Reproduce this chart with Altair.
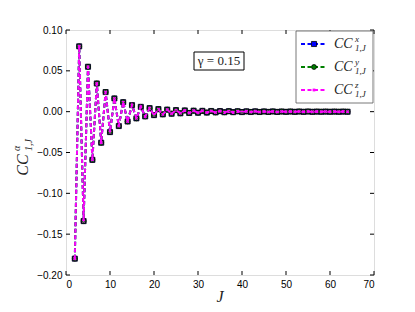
import altair as alt
import pandas as pd

# ---- data ----
J = list(range(2, 65))
cc_x = [-0.180, 0.080, -0.134, 0.055, -0.059, 0.0345, -0.038, 0.024, -0.025, 0.0162,
        -0.0176, 0.0116, -0.012, 0.008, -0.0082, 0.0059, -0.0058, 0.0043, -0.0042, 0.0031,
        -0.0033, 0.0025, -0.0025, 0.0019, -0.0020, 0.0015, -0.0016, 0.0012, -0.0013, 0.0010,
        -0.0011, 0.0008, -0.0009, 0.0007, -0.0007, 0.0006, -0.0006, 0.0005, -0.0005, 0.0004,
        -0.0004, 0.0004, -0.0004, 0.0003, -0.0003, 0.0003, -0.0003, 0.0002, -0.0002, 0.0002,
        -0.0002, 0.0002, -0.0002, 0.0002, -0.0002, 0.0001, -0.0001, 0.0001, -0.0001, 0.0001,
        -0.0001, 0.0001, -0.0001]
cc_y = list(cc_x)
cc_z = list(cc_x)

x_ticks = [0, 10, 20, 30, 40, 50, 60, 70]
y_ticks = [-0.20, -0.15, -0.10, -0.05, 0.00, 0.05, 0.10]

series_names = ["x", "y", "z"]
series_colors = ["#0000ff", "#008000", "#ff00ff"]

df = pd.DataFrame({"J": J, "x": cc_x, "y": cc_y, "z": cc_z})

W, H = 308, 245
FONT = "Liberation Serif"
DASH = [4, 2.5]

xs = alt.Scale(domain=[0, 70], nice=False)
ys = alt.Scale(domain=[-0.2, 0.1], nice=False)

base = alt.Chart(df)

axes = base.mark_point(opacity=0).encode(
    x=alt.X("J:Q", scale=xs, axis=alt.Axis(values=x_ticks, format="d", title=None, grid=False,
                                           ticks=False, domain=False, labelPadding=4)),
    y=alt.Y("x:Q", scale=ys, axis=alt.Axis(values=y_ticks, format=".2f", title=None, grid=False,
                                           ticks=False, domain=False, labelPadding=4)),
)

x_marker = "M-0.5,-0.5L0.5,0.5M-0.5,0.5L0.5,-0.5"


def marker(chart, name, col):
    if name == "x":
        return chart.mark_point(shape="square", filled=True, fill=col, stroke="black",
                                strokeWidth=0.8, size=26, opacity=1)
    if name == "y":
        return chart.mark_point(shape="circle", filled=True, fill=col, stroke="black",
                                strokeWidth=0.8, size=24, opacity=1)
    return chart.mark_point(shape=x_marker, filled=False, stroke=col,
                            strokeWidth=1.3, size=26, opacity=1)


layers = [axes]
for name, col in zip(series_names, series_colors):
    layers.append(base.mark_line(color=col, strokeWidth=2, strokeDash=DASH).encode(
        x=alt.X("J:Q", scale=xs), y=alt.Y(f"{name}:Q", scale=ys)))
    layers.append(marker(base, name, col).encode(
        x=alt.X("J:Q", scale=xs), y=alt.Y(f"{name}:Q", scale=ys)))

# inward ticks on all four sides
xt = alt.Chart(pd.DataFrame({"t": x_ticks}))
yt = alt.Chart(pd.DataFrame({"t": y_ticks}))
layers.append(xt.mark_rule(color="black", strokeWidth=1).encode(
    x=alt.X("t:Q", scale=xs), y=alt.value(H), y2=alt.value(H - 4)))
layers.append(xt.mark_rule(color="black", strokeWidth=1).encode(
    x=alt.X("t:Q", scale=xs), y=alt.value(0), y2=alt.value(4)))
layers.append(yt.mark_rule(color="black", strokeWidth=1).encode(
    y=alt.Y("t:Q", scale=ys), x=alt.value(0), x2=alt.value(4)))
layers.append(yt.mark_rule(color="black", strokeWidth=1).encode(
    y=alt.Y("t:Q", scale=ys), x=alt.value(W), x2=alt.value(W - 4)))

one = alt.Chart(pd.DataFrame({"a": [0]}))

# legend box
layers.append(one.mark_rect(fill="white", stroke="#555", strokeWidth=0.8).encode(
    x=alt.value(230), x2=alt.value(307), y=alt.value(1), y2=alt.value(73)))
rows = [14, 37, 60]
for name, col, ry in zip(series_names, series_colors, rows):
    layers.append(one.mark_rule(color=col, strokeWidth=2, strokeDash=DASH).encode(
        x=alt.value(235), x2=alt.value(261), y=alt.value(ry)))
    layers.append(marker(one, name, col).encode(x=alt.value(248), y=alt.value(ry)))
    layers.append(one.mark_text(text="CC", font=FONT, fontStyle="italic", fontSize=14,
                                align="left", baseline="middle", color="#222").encode(
        x=alt.value(268), y=alt.value(ry)))
    layers.append(one.mark_text(text=name, font=FONT, fontStyle="italic", fontSize=9,
                                align="left", baseline="middle", color="#222").encode(
        x=alt.value(289), y=alt.value(ry - 5)))
    layers.append(one.mark_text(text="1,J", font=FONT, fontStyle="italic", fontSize=9,
                                align="left", baseline="middle", color="#222").encode(
        x=alt.value(289), y=alt.value(ry + 4)))

# gamma annotation box
layers.append(one.mark_rect(fill="white", stroke="black", strokeWidth=1).encode(
    x=alt.value(128), x2=alt.value(178), y=alt.value(22), y2=alt.value(40)))
layers.append(one.mark_text(text="γ = 0.15", font=FONT, fontSize=13, align="center",
                            baseline="middle", color="#222").encode(
    x=alt.value(153), y=alt.value(31)))

# x axis title
layers.append(one.mark_text(text="J", font=FONT, fontStyle="italic", fontSize=16,
                            align="center", baseline="middle", color="#222").encode(
    x=alt.value(154), y=alt.value(267)))

# y axis title (rotated pieces)
layers.append(one.mark_text(text="CC", font=FONT, fontStyle="italic", fontSize=16, angle=270,
                            align="center", baseline="middle", color="#222").encode(
    x=alt.value(-43), y=alt.value(135)))
layers.append(one.mark_text(text="α", font=FONT, fontStyle="italic", fontSize=10, angle=270,
                            align="left", baseline="middle", color="#222").encode(
    x=alt.value(-49), y=alt.value(121)))
layers.append(one.mark_text(text="1,J", font=FONT, fontStyle="italic", fontSize=10, angle=270,
                            align="left", baseline="middle", color="#222").encode(
    x=alt.value(-37), y=alt.value(121)))

chart = alt.layer(*layers).properties(
    width=W, height=H,
    autosize=alt.AutoSizeParams(type="none"),
    padding={"left": 58, "top": 22, "right": 30, "bottom": 30},
).configure_view(stroke="black", strokeWidth=1.2).configure_axis(
    labelFont=FONT, labelFontSize=11, labelColor="#222"
).configure(background="white")

chart.save("out.html", embed_options={"renderer": "svg", "actions": False})
